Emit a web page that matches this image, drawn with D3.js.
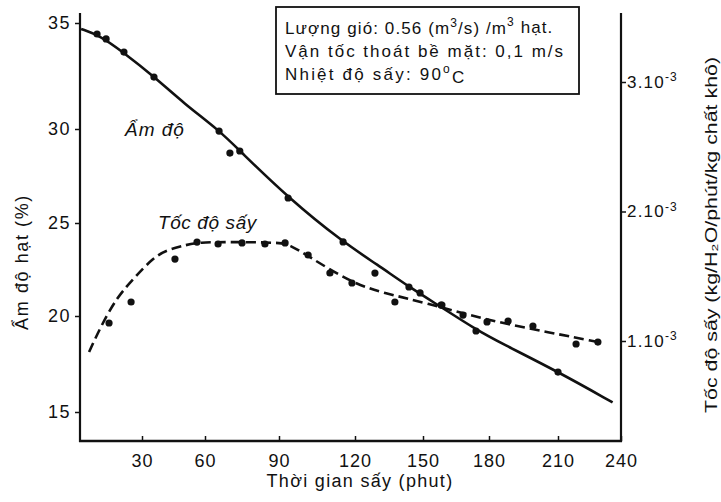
<!DOCTYPE html>
<html><head><meta charset="utf-8">
<script src="https://cdn.jsdelivr.net/npm/d3@7"></script>
<style>
body{margin:0;background:#fff}
svg{display:block}
text{font-family:"Liberation Sans",Arial,Helvetica,sans-serif;fill:#111}
</style>
</head><body>
<svg id="c" width="721" height="502"></svg>
<script>
// ---------- data ----------
const timeTicks = [30, 60, 90, 120, 150, 180, 210, 240];
const moistTicks = [15, 20, 25, 30, 35];
const rateTicks = [1e-3, 2e-3, 3e-3];
const rateTickLabels = ["1.10", "2.10", "3.10"];

// moisture (%) measured points
const moistPtT = [8.6, 12.9, 21.4, 35.7, 65.7, 70.1, 74.1, 93.6, 115.3, 128.8, 143.8, 148.7, 158.2, 174.1, 210];
const moistPtV = [34.48, 34.25, 33.63, 32.45, 29.89, 28.72, 28.83, 26.33, 23.98, 22.31, 21.56, 21.24, 20.59, 19.22, 17.08];
// moisture fitted curve
const moistCurveT = [1, 10, 20, 36, 50, 66, 74, 94, 115, 130, 144, 158, 174, 185, 210, 236];
const moistCurveV = [34.72, 34.4, 33.7, 32.45, 31.2, 29.9, 28.85, 26.3, 24.0, 22.75, 21.55, 20.5, 19.3, 18.6, 17.1, 15.5];

// drying rate (kg H2O / min / kg dry matter) measured points
const ratePtT = [14.3, 24.8, 45.7, 56.2, 65.3, 75.0, 84.3, 92.4, 101.5, 110.1, 118.8, 137.6, 158.6, 168.2, 179.1, 188.3, 199.1, 218.6, 229.0];
const ratePtV = [1.139e-3, 1.301e-3, 1.633e-3, 1.764e-3, 1.749e-3, 1.757e-3, 1.749e-3, 1.757e-3, 1.664e-3, 1.525e-3, 1.448e-3, 1.301e-3, 1.278e-3, 1.200e-3, 1.147e-3, 1.154e-3, 1.116e-3, 0.977e-3, 0.992e-3];
// drying rate fitted curve
const rateCurveT = [4.8, 10.0, 18.1, 26.7, 35.2, 41.9, 49.5, 56.2, 74.1, 90.0, 94.0, 101.5, 118.8, 132.4, 151.8, 176.8, 207.4, 229];
const rateCurveV = [0.915e-3, 1.100e-3, 1.340e-3, 1.494e-3, 1.641e-3, 1.703e-3, 1.734e-3, 1.764e-3, 1.764e-3, 1.760e-3, 1.745e-3, 1.656e-3, 1.448e-3, 1.371e-3, 1.293e-3, 1.170e-3, 1.062e-3, 0.992e-3];

const infoLines = ["Lượng gió: 0.56 (m", "Vận tốc thoát bề mặt: 0,1 m/s", "Nhiệt độ sấy: 90"];

// ---------- layout ----------
const svg = d3.select("#c");
const L = 80, R = 621, B = 441, T = 13;

// scanned axes are slightly uneven: piecewise linear scales
const x = d3.scaleLinear().domain([0, 30, 60, 90, 120, 150, 180, 210, 240])
  .range([79, 142, 205, 279, 355, 423, 489, 558, 621]);
const yL = d3.scaleLinear().domain([15, 20, 25, 30, 35]).range([412, 316, 223, 129, 23]);
const yR = d3.scaleLinear().domain([1e-3, 3e-3]).range([341, 82]);

const ink = "#111";

// frame lines
svg.append("line").attr("x1", L).attr("x2", L).attr("y1", T).attr("y2", B + 1)
  .attr("stroke", ink).attr("stroke-width", 2.2);
svg.append("line").attr("x1", L - 1).attr("x2", R + 1).attr("y1", B).attr("y2", B)
  .attr("stroke", ink).attr("stroke-width", 2.6);
svg.append("line").attr("x1", R).attr("x2", R).attr("y1", T).attr("y2", B + 1)
  .attr("stroke", ink).attr("stroke-width", 2.2);

// left axis
const gL = svg.append("g").attr("transform", `translate(${L},0)`)
  .call(d3.axisLeft(yL).tickValues(moistTicks).tickSize(5).tickPadding(4).tickFormat(d3.format("d")));
gL.select(".domain").remove();
gL.selectAll("line").attr("stroke", ink).attr("stroke-width", 1.5);
gL.selectAll("text").attr("font-size", 18).attr("letter-spacing", 1.5).attr("fill", ink).style("font-family", null);

// bottom axis (ticks pointing inward)
const gB = svg.append("g").attr("transform", `translate(0,${B})`)
  .call(d3.axisBottom(x).tickValues(timeTicks).tickSizeInner(-5).tickSizeOuter(0).tickPadding(13));
gB.select(".domain").remove();
gB.selectAll("line").attr("stroke", ink).attr("stroke-width", 1.5);
gB.selectAll("text").attr("font-size", 18).attr("letter-spacing", 1).attr("fill", ink).style("font-family", null);

// right axis
const gR = svg.append("g").attr("transform", `translate(${R},0)`)
  .call(d3.axisRight(yR).tickValues(rateTicks).tickSize(5).tickPadding(1).tickFormat(() => ""));
gR.select(".domain").remove();
gR.selectAll("line").attr("stroke", ink).attr("stroke-width", 1.5);
gR.selectAll(".tick text").each(function(d, i) {
  const t = d3.select(this).attr("font-size", 17).attr("letter-spacing", 1.2).attr("fill", ink).style("font-family", null);
  t.append("tspan").text(rateTickLabels[i]);
  t.append("tspan").attr("font-size", 12).attr("dy", "-0.55em").text("-3");
});

// axis titles
svg.append("text").attr("x", 360).attr("y", 487).attr("text-anchor", "middle")
  .attr("font-size", 18).attr("letter-spacing", 1.3).text("Thời gian sấy (phut)");
svg.append("text").attr("transform", "translate(28,262) rotate(-90)").attr("text-anchor", "middle")
  .attr("font-size", 18).attr("letter-spacing", 1.6).text("Ẩm độ hạt (%)");
svg.append("text").attr("transform", "translate(717,235) rotate(-90)").attr("text-anchor", "middle")
  .attr("font-size", 16).attr("textLength", 356).attr("lengthAdjust", "spacingAndGlyphs")
  .text("Tốc độ sấy (kg/H₂O/phút/kg chất khô)");

// curves
const moistCurve = moistCurveT.map((t, i) => [t, moistCurveV[i]]);
const rateCurve = rateCurveT.map((t, i) => [t, rateCurveV[i]]);
svg.append("path").datum(moistCurve)
  .attr("d", d3.line().x(d => x(d[0])).y(d => yL(d[1])).curve(d3.curveBasis))
  .attr("fill", "none").attr("stroke", ink).attr("stroke-width", 2.6);
svg.append("path").datum(rateCurve)
  .attr("d", d3.line().x(d => x(d[0])).y(d => yR(d[1])).curve(d3.curveBasis))
  .attr("fill", "none").attr("stroke", ink).attr("stroke-width", 2.6)
  .attr("stroke-dasharray", "10,5");

// points
svg.append("g").selectAll("circle").data(moistPtT).join("circle")
  .attr("cx", d => x(d)).attr("cy", (d, i) => yL(moistPtV[i])).attr("r", 3.6).attr("fill", ink);
svg.append("g").selectAll("circle").data(ratePtT).join("circle")
  .attr("cx", d => x(d)).attr("cy", (d, i) => yR(ratePtV[i])).attr("r", 3.6).attr("fill", ink);

// series labels
svg.append("text").attr("x", 125).attr("y", 136).attr("font-size", 19).attr("letter-spacing", 1)
  .attr("font-style", "italic").text("Ẩm độ");
svg.append("text").attr("x", 158).attr("y", 229).attr("font-size", 19).attr("letter-spacing", 0.6)
  .attr("font-style", "italic").text("Tốc độ sấy");

// info box
svg.append("rect").attr("x", 276).attr("y", 7).attr("width", 303).attr("height", 87)
  .attr("fill", "#fff").attr("stroke", ink).attr("stroke-width", 1.8);
const l1 = svg.append("text").attr("x", 285).attr("y", 34).attr("font-size", 17).attr("letter-spacing", 1.1);
l1.append("tspan").text(infoLines[0]);
l1.append("tspan").attr("font-size", 12).attr("dy", "-0.6em").text("3");
l1.append("tspan").attr("dy", "0.4em").text("/s) /m");
l1.append("tspan").attr("font-size", 12).attr("dy", "-0.6em").text("3");
l1.append("tspan").attr("dy", "0.4em").text(" hạt.");
svg.append("text").attr("x", 285).attr("y", 57).attr("font-size", 17).attr("letter-spacing", 2).text(infoLines[1]);
const l3 = svg.append("text").attr("x", 285).attr("y", 80).attr("font-size", 17).attr("letter-spacing", 2.2);
l3.append("tspan").text(infoLines[2]);
l3.append("tspan").attr("font-size", 12).attr("dy", "-0.6em").text("o");
l3.append("tspan").attr("dy", "0.6em").text("C");
</script>
</body></html>
